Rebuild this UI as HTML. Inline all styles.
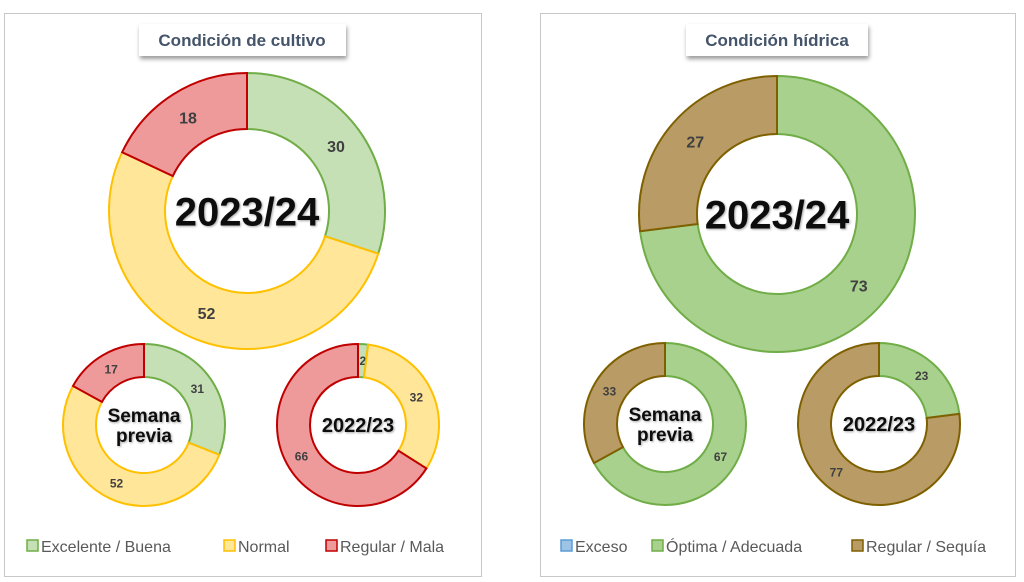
<!DOCTYPE html>
<html><head><meta charset="utf-8"><style>
body{margin:0;background:#fff;width:1024px;height:582px;overflow:hidden;font-family:"Liberation Sans",sans-serif}
svg{position:absolute;left:0;top:0}
</style></head><body>
<svg id="s" width="1024" height="582" xmlns="http://www.w3.org/2000/svg">
<defs><filter id="sh" x="-20%" y="-20%" width="140%" height="160%"><feDropShadow dx="1" dy="3" stdDeviation="2" flood-color="#000" flood-opacity="0.4"/></filter>
<filter id="ts"><feDropShadow dx="1" dy="1" stdDeviation="1" flood-color="#000" flood-opacity="0.35"/></filter></defs>
<rect x="4.5" y="13.5" width="477" height="563" fill="#fff" stroke="#c8c8c8"/>
<rect x="540.5" y="13.5" width="475" height="563" fill="#fff" stroke="#c8c8c8"/>
<g><rect x="139" y="24" width="207" height="32" fill="#fff" filter="url(#sh)"/>
<text x="242" y="46" text-anchor="middle" font-size="17" font-weight="bold" fill="#44546a">Condición  de cultivo</text></g>
<g><rect x="686" y="24" width="182" height="32" fill="#fff" filter="url(#sh)"/>
<text x="777" y="46" text-anchor="middle" font-size="17" font-weight="bold" fill="#44546a">Condición  hídrica</text></g>
<g id="g"></g>
</svg>
<script>
// data
const cultivoCats=["Excelente / Buena","Normal","Regular / Mala"];
const cultivo2324=[30,52,18];
const cultivoPrev=[31,52,17];
const cultivo2223=[2,32,66];
const hidricaCats=["Exceso","Óptima / Adecuada","Regular / Sequía"];
const hidrica2324=[0,73,27];
const hidricaPrev=[0,67,33];
const hidrica2223=[0,23,77];

const cFill=["#c5e0b4","#ffe699","#ee9a9a"],cStroke=["#70ad47","#ffc000","#c00000"];
const hFill=["#9dc3e6","#a9d18e","#b89b65"],hStroke=["#5b9bd5","#70ad47","#7f6000"];
const NS="http://www.w3.org/2000/svg";
const g=document.getElementById('g');
function el(t,a){const e=document.createElementNS(NS,t);for(const k in a)e.setAttribute(k,a[k]);g.appendChild(e);return e;}
function pt(cx,cy,r,f){const a=f*2*Math.PI;return [cx+r*Math.sin(a),cy-r*Math.cos(a)];}
function donut(name,cx,cy,ro,ri,vals,fills,strokes,center,cfs,lfs){
  const tot=vals.reduce((a,b)=>a+b,0);let acc=0;
  vals.forEach((v,i)=>{
    const f0=acc/tot,f1=(acc+v)/tot;acc+=v;
    if(v<=0){const [x1,y1]=pt(cx,cy,ro,f0),[x2,y2]=pt(cx,cy,ri,f0);
      const l=el('line',{x1,y1,x2,y2,stroke:strokes[i],'stroke-width':1.5});
      
      return;}
    const lg=(f1-f0)>0.5?1:0;
    const [a,b]=pt(cx,cy,ro,f0),[c,d]=pt(cx,cy,ro,f1),[e,f]=pt(cx,cy,ri,f1),[h,k]=pt(cx,cy,ri,f0);
    const p=el('path',{d:`M${a},${b}A${ro},${ro} 0 ${lg} 1 ${c},${d}L${e},${f}A${ri},${ri} 0 ${lg} 0 ${h},${k}Z`,fill:fills[i],stroke:strokes[i],'stroke-width':2});
    
    
    let fm=(f0+f1)/2,rr=(ro+ri)/2;
    if(v<5){fm=f0+0.012;}
    const [lx,ly]=pt(cx,cy,rr,fm);
    const t=el('text',{x:lx,y:ly+lfs*0.35,'text-anchor':'middle','font-size':lfs,'font-weight':'bold',fill:'#404040'});
    t.textContent=v;
    
    
  });
  const lines=center.split('\n');
  lines.forEach((ln,j)=>{
    const t=el('text',{x:cx,y:cy+cfs*0.36+(j-(lines.length-1)/2)*cfs*1.05,'text-anchor':'middle','font-size':cfs,'font-weight':'bold',fill:'#111',filter:'url(#ts)'});
    t.textContent=ln;
    
    
  });
}
donut('cultivo-2023-24',247,211,138,82,cultivo2324,cFill,cStroke,'2023/24',40,16);
donut('cultivo-semana-previa',144,425,81,48,cultivoPrev,cFill,cStroke,'Semana\nprevia',19,12);
donut('cultivo-2022-23',358,425,81,48,cultivo2223,cFill,cStroke,'2022/23',20,12);
donut('hidrica-2023-24',777,214,138,80,hidrica2324,hFill,hStroke,'2023/24',40,16);
donut('hidrica-semana-previa',665,424,81,48,hidricaPrev,hFill,hStroke,'Semana\nprevia',19,12);
donut('hidrica-2022-23',879,424,81,48,hidrica2223,hFill,hStroke,'2022/23',20,12);
function legend(cats,fills,strokes,xs){
  cats.forEach((c,i)=>{
    const r=el('rect',{x:xs[i],y:540,width:11,height:11,fill:fills[i],stroke:strokes[i],'stroke-width':1.5});
    
    
    const t=el('text',{x:xs[i]+14,y:552,'font-size':16,fill:'#595959'});t.textContent=c;
    
    
  });
}
legend(cultivoCats,cFill,cStroke,[27,224,326]);
legend(hidricaCats,hFill,hStroke,[561,652,852]);
</script>
</body></html>
